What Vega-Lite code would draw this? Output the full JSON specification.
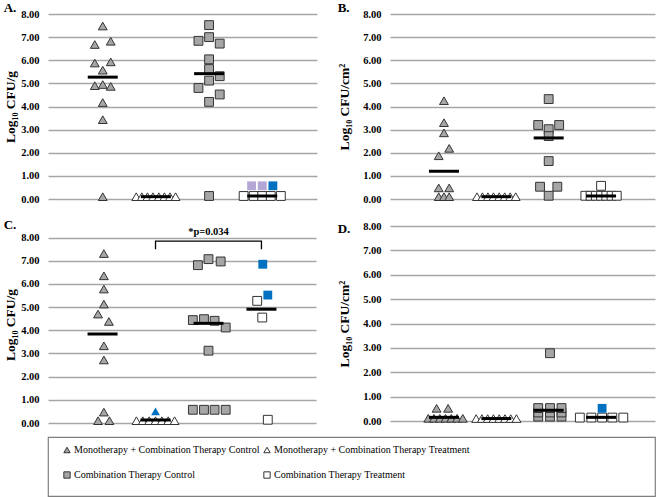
{
  "$schema": "https://vega.github.io/schema/vega-lite/v6.json",
  "padding": {"left": 3, "top": 2, "right": 0, "bottom": 0},
  "config": {
    "view": {"stroke": null},
    "font": "Liberation Serif",
    "axis": {"labelFont": "Liberation Serif", "labelFontSize": 10.5, "labelFontWeight": "bold", "labelColor": "#000", "titleFont": "Liberation Serif", "titleFontSize": 13.5, "titleFontWeight": "bold", "titleColor": "#000", "gridColor": "#a6a6a6", "gridWidth": 1.3, "domain": false, "ticks": false, "labelPadding": 9, "labelOverlap": false},
    "title": {"font": "Liberation Serif", "fontSize": 13, "fontWeight": "bold", "anchor": "start", "frame": "bounds", "color": "#000", "offset": -6}
  },
  "datasets": {
    "pts": [
      {"p": "A", "g": "g1", "v": 7.48, "j": 0}, {"p": "A", "g": "g1", "v": 6.68, "j": -3}, {"p": "A", "g": "g1", "v": 6.82, "j": 3},
      {"p": "A", "g": "g1", "v": 5.88, "j": -3}, {"p": "A", "g": "g1", "v": 5.93, "j": 3}, {"p": "A", "g": "g1", "v": 5.57, "j": 0},
      {"p": "A", "g": "g1", "v": 4.9, "j": -3}, {"p": "A", "g": "g1", "v": 4.95, "j": 0}, {"p": "A", "g": "g1", "v": 4.87, "j": 3},
      {"p": "A", "g": "g1", "v": 4.17, "j": 0}, {"p": "A", "g": "g1", "v": 3.43, "j": 0}, {"p": "A", "g": "g1", "v": 0.1, "j": 0},
      {"p": "A", "g": "g2", "v": 0.1, "j": -7.4}, {"p": "A", "g": "g2", "v": 0.1, "j": -5.3}, {"p": "A", "g": "g2", "v": 0.1, "j": -3.2}, {"p": "A", "g": "g2", "v": 0.1, "j": -1.1},
      {"p": "A", "g": "g2", "v": 0.1, "j": 1.1}, {"p": "A", "g": "g2", "v": 0.1, "j": 3.2}, {"p": "A", "g": "g2", "v": 0.1, "j": 5.3}, {"p": "A", "g": "g2", "v": 0.1, "j": 7.4},
      {"p": "A", "g": "g3", "v": 7.52, "j": 0}, {"p": "A", "g": "g3", "v": 6.84, "j": -4}, {"p": "A", "g": "g3", "v": 7.0, "j": 0},
      {"p": "A", "g": "g3", "v": 6.72, "j": 4}, {"p": "A", "g": "g3", "v": 6.04, "j": 0}, {"p": "A", "g": "g3", "v": 5.62, "j": 0},
      {"p": "A", "g": "g3", "v": 5.12, "j": 0}, {"p": "A", "g": "g3", "v": 5.31, "j": 4}, {"p": "A", "g": "g3", "v": 4.8, "j": -4},
      {"p": "A", "g": "g3", "v": 4.52, "j": 4}, {"p": "A", "g": "g3", "v": 4.2, "j": 0}, {"p": "A", "g": "g3", "v": 0.13, "j": 0},
      {"p": "A", "g": "g4", "v": 0.57, "j": -4, "s": "s2"}, {"p": "A", "g": "g4", "v": 0.57, "j": 0, "s": "s2"}, {"p": "A", "g": "g4", "v": 0.57, "j": 4, "s": "s1"},
      {"p": "A", "g": "g4", "v": 0.13, "j": -7}, {"p": "A", "g": "g4", "v": 0.13, "j": -3.2}, {"p": "A", "g": "g4", "v": 0.13, "j": 0},
      {"p": "A", "g": "g4", "v": 0.13, "j": 3.2}, {"p": "A", "g": "g4", "v": 0.13, "j": 7},

      {"p": "B", "g": "g1", "v": 4.25, "j": 0}, {"p": "B", "g": "g1", "v": 3.3, "j": 0}, {"p": "B", "g": "g1", "v": 2.86, "j": 0},
      {"p": "B", "g": "g1", "v": 1.87, "j": -2}, {"p": "B", "g": "g1", "v": 2.19, "j": 2}, {"p": "B", "g": "g1", "v": 0.48, "j": -2},
      {"p": "B", "g": "g1", "v": 0.48, "j": 2}, {"p": "B", "g": "g1", "v": 0.1, "j": -2}, {"p": "B", "g": "g1", "v": 0.1, "j": 0}, {"p": "B", "g": "g1", "v": 0.1, "j": 2},
      {"p": "B", "g": "g2", "v": 0.1, "j": -7.4}, {"p": "B", "g": "g2", "v": 0.1, "j": -5.3}, {"p": "B", "g": "g2", "v": 0.1, "j": -3.2}, {"p": "B", "g": "g2", "v": 0.1, "j": -1.1},
      {"p": "B", "g": "g2", "v": 0.1, "j": 1.1}, {"p": "B", "g": "g2", "v": 0.1, "j": 3.2}, {"p": "B", "g": "g2", "v": 0.1, "j": 5.3}, {"p": "B", "g": "g2", "v": 0.1, "j": 7.4},
      {"p": "B", "g": "g3", "v": 4.32, "j": 0}, {"p": "B", "g": "g3", "v": 3.2, "j": -4}, {"p": "B", "g": "g3", "v": 3.2, "j": 4},
      {"p": "B", "g": "g3", "v": 3.02, "j": 0}, {"p": "B", "g": "g3", "v": 2.72, "j": 0}, {"p": "B", "g": "g3", "v": 1.64, "j": 0},
      {"p": "B", "g": "g3", "v": 0.53, "j": -3.3}, {"p": "B", "g": "g3", "v": 0.53, "j": 3.3}, {"p": "B", "g": "g3", "v": 0.14, "j": 0},
      {"p": "B", "g": "g4", "v": 0.57, "j": 0},
      {"p": "B", "g": "g4", "v": 0.14, "j": -6}, {"p": "B", "g": "g4", "v": 0.14, "j": -4}, {"p": "B", "g": "g4", "v": 0.14, "j": -2}, {"p": "B", "g": "g4", "v": 0.14, "j": 0},
      {"p": "B", "g": "g4", "v": 0.14, "j": 2}, {"p": "B", "g": "g4", "v": 0.14, "j": 4}, {"p": "B", "g": "g4", "v": 0.14, "j": 6},

      {"p": "C", "g": "g1", "v": 7.31, "j": 0.5}, {"p": "C", "g": "g1", "v": 6.35, "j": 0.5}, {"p": "C", "g": "g1", "v": 5.78, "j": 0.5},
      {"p": "C", "g": "g1", "v": 5.13, "j": 0.5}, {"p": "C", "g": "g1", "v": 4.7, "j": -1.7}, {"p": "C", "g": "g1", "v": 4.38, "j": 2.4},
      {"p": "C", "g": "g1", "v": 3.33, "j": 0.5}, {"p": "C", "g": "g1", "v": 2.72, "j": 0.5}, {"p": "C", "g": "g1", "v": 0.47, "j": 0.5},
      {"p": "C", "g": "g1", "v": 0.1, "j": -1.7}, {"p": "C", "g": "g1", "v": 0.1, "j": 2.6},
      {"p": "C", "g": "g2", "v": 0.1, "j": -7.2}, {"p": "C", "g": "g2", "v": 0.1, "j": -4.8}, {"p": "C", "g": "g2", "v": 0.1, "j": -2.4}, {"p": "C", "g": "g2", "v": 0.1, "j": 0},
      {"p": "C", "g": "g2", "v": 0.1, "j": 2.4}, {"p": "C", "g": "g2", "v": 0.1, "j": 4.8}, {"p": "C", "g": "g2", "v": 0.1, "j": 7.2},
      {"p": "C", "g": "g2", "v": 0.5, "j": 0, "s": "s1"},
      {"p": "C", "g": "g3", "v": 6.81, "j": -4}, {"p": "C", "g": "g3", "v": 7.07, "j": 0}, {"p": "C", "g": "g3", "v": 6.97, "j": 4.6},
      {"p": "C", "g": "g3", "v": 4.44, "j": -5.9}, {"p": "C", "g": "g3", "v": 4.48, "j": -1.7}, {"p": "C", "g": "g3", "v": 4.41, "j": 2.3},
      {"p": "C", "g": "g3", "v": 4.12, "j": 6.5}, {"p": "C", "g": "g3", "v": 3.12, "j": 0},
      {"p": "C", "g": "g3", "v": 0.57, "j": -5.9}, {"p": "C", "g": "g3", "v": 0.57, "j": -1.7}, {"p": "C", "g": "g3", "v": 0.57, "j": 2.3}, {"p": "C", "g": "g3", "v": 0.57, "j": 6.5},
      {"p": "C", "g": "g4", "v": 6.85, "j": 0.5, "s": "s1"}, {"p": "C", "g": "g4", "v": 5.52, "j": 2.4, "s": "s1"},
      {"p": "C", "g": "g4", "v": 5.27, "j": -1.6}, {"p": "C", "g": "g4", "v": 4.55, "j": 0.3}, {"p": "C", "g": "g4", "v": 0.14, "j": 2.4},

      {"p": "D", "g": "g1", "v": 0.52, "j": -2.8}, {"p": "D", "g": "g1", "v": 0.52, "j": 1.6},
      {"p": "D", "g": "g1", "v": 0.11, "j": -6}, {"p": "D", "g": "g1", "v": 0.11, "j": -3.8}, {"p": "D", "g": "g1", "v": 0.11, "j": -1.6}, {"p": "D", "g": "g1", "v": 0.11, "j": 0.6},
      {"p": "D", "g": "g1", "v": 0.11, "j": 2.8}, {"p": "D", "g": "g1", "v": 0.11, "j": 5}, {"p": "D", "g": "g1", "v": 0.11, "j": 7.2},
      {"p": "D", "g": "g2", "v": 0.1, "j": -7.7}, {"p": "D", "g": "g2", "v": 0.1, "j": -5.5}, {"p": "D", "g": "g2", "v": 0.1, "j": -3.3}, {"p": "D", "g": "g2", "v": 0.1, "j": -1.1},
      {"p": "D", "g": "g2", "v": 0.1, "j": 1.1}, {"p": "D", "g": "g2", "v": 0.1, "j": 3.3}, {"p": "D", "g": "g2", "v": 0.1, "j": 5.5}, {"p": "D", "g": "g2", "v": 0.1, "j": 7.7},
      {"p": "D", "g": "g3", "v": 0.18, "j": -4}, {"p": "D", "g": "g3", "v": 0.18, "j": 0.5}, {"p": "D", "g": "g3", "v": 0.18, "j": 4.9},
      {"p": "D", "g": "g3", "v": 0.35, "j": -4}, {"p": "D", "g": "g3", "v": 0.35, "j": 0.5}, {"p": "D", "g": "g3", "v": 0.35, "j": 4.9},
      {"p": "D", "g": "g3", "v": 0.53, "j": -4}, {"p": "D", "g": "g3", "v": 0.53, "j": 0.5}, {"p": "D", "g": "g3", "v": 0.53, "j": 4.9},
      {"p": "D", "g": "g3", "v": 2.78, "j": 0.5},
      {"p": "D", "g": "g4", "v": 0.14, "j": -8.1}, {"p": "D", "g": "g4", "v": 0.14, "j": -3.7}, {"p": "D", "g": "g4", "v": 0.14, "j": 0.4},
      {"p": "D", "g": "g4", "v": 0.14, "j": 4.3}, {"p": "D", "g": "g4", "v": 0.14, "j": 8.5},
      {"p": "D", "g": "g4", "v": 0.52, "j": 0.4, "s": "s1"}
    ],
    "means": [
      {"p": "A", "g": "g1", "v": 5.27}, {"p": "A", "g": "g2", "v": 0.1}, {"p": "A", "g": "g3", "v": 5.42}, {"p": "A", "g": "g4", "v": 0.13},
      {"p": "B", "g": "g1", "v": 1.2}, {"p": "B", "g": "g2", "v": 0.1}, {"p": "B", "g": "g3", "v": 2.64}, {"p": "B", "g": "g4", "v": 0.13},
      {"p": "C", "g": "g1", "v": 3.84}, {"p": "C", "g": "g2", "v": 0.13}, {"p": "C", "g": "g3", "v": 4.3}, {"p": "C", "g": "g4", "v": 4.91},
      {"p": "D", "g": "g1", "v": 0.15}, {"p": "D", "g": "g2", "v": 0.1}, {"p": "D", "g": "g3", "v": 0.44}, {"p": "D", "g": "g4", "v": 0.15}
    ],
    "bracket": [
      {"g": "g2", "v": 7.5, "o": 1}, {"g": "g2", "v": 7.85, "o": 2}, {"g": "g4", "v": 7.85, "o": 3}, {"g": "g4", "v": 7.5, "o": 4}
    ],
    "anno": [{"g": "g3", "v": 8.23, "label": "*p=0.034"}],
    "legendGroups": [
      {"label": "Monotherapy + Combination Therapy Control"},
      {"label": "Monotherapy + Combination Therapy Treatment"},
      {"label": "Combination Therapy Control"},
      {"label": "Combination Therapy Treatment"}
    ]
  },
  "resolve": {"scale": {"x": "independent", "y": "independent", "xOffset": "independent", "shape": "independent", "fill": "independent", "strokeOpacity": "independent"}},
  "spacing": 7,
  "vconcat": [
    {
      "spacing": 14,
      "resolve": {"scale": {"x": "independent", "y": "independent", "xOffset": "independent", "shape": "independent", "fill": "independent", "strokeOpacity": "independent"}},
      "vconcat": [
        {
          "spacing": 20,
          "resolve": {"scale": {"x": "independent", "y": "independent", "xOffset": "independent", "shape": "independent", "fill": "independent", "strokeOpacity": "independent"}},
          "hconcat": [
            {
              "width": 269, "height": 185,
              "title": {"text": "A."},
              "layer": [
                {
                  "data": {"name": "pts"}, "transform": [{"filter": "datum.p === 'A'"}],
                  "mark": {"type": "point", "filled": true, "size": 78, "stroke": "#333", "strokeWidth": 1, "opacity": 1},
                  "encoding": {
                    "x": {"field": "g", "type": "nominal", "scale": {"type": "band", "domain": ["g1", "g2", "g3", "g4"], "paddingInner": 0, "paddingOuter": 0.53}, "axis": null},
                    "xOffset": {"field": "j", "type": "quantitative", "scale": {"domain": [-10, 10]}},
                    "y": {"field": "v", "type": "quantitative", "scale": {"domain": [0, 8], "nice": false}, "axis": {"values": [0, 1, 2, 3, 4, 5, 6, 7, 8], "tickCount": 9, "format": ".2f", "title": "Log₁₀ CFU/g", "titlePadding": 3}},
                    "shape": {"field": "g", "type": "nominal", "scale": {"domain": ["g1", "g2", "g3", "g4"], "range": ["triangle-up", "triangle-up", "square", "square"]}, "legend": null},
                    "fill": {"field": "g", "type": "nominal", "scale": {"domain": ["g1", "g2", "g3", "g4"], "range": ["#a6a6a6", "#ffffff", "#a6a6a6", "#ffffff"]}, "legend": null,
                      "condition": [{"test": "datum.s === 's1'", "value": "#0070c0"}, {"test": "datum.s === 's2'", "value": "#b4a7d6"}]},
                    "strokeOpacity": {"condition": {"test": "datum.s === 's1' || datum.s === 's2'", "value": 0}, "value": 1}
                  }
                },
                {
                  "data": {"name": "means"}, "transform": [{"filter": "datum.p === 'A'"}],
                  "mark": {"type": "tick", "size": 30, "thickness": 3, "color": "#000", "opacity": 1},
                  "encoding": {"x": {"field": "g", "type": "nominal"}, "y": {"field": "v", "type": "quantitative", "axis": {"values": [0, 1, 2, 3, 4, 5, 6, 7, 8], "tickCount": 9, "format": ".2f", "title": "Log₁₀ CFU/g", "titlePadding": 3}}}
                }
              ]
            },
            {
              "width": 265, "height": 185,
              "title": {"text": "B."},
              "layer": [
                {
                  "data": {"name": "pts"}, "transform": [{"filter": "datum.p === 'B'"}],
                  "mark": {"type": "point", "filled": true, "size": 78, "stroke": "#333", "strokeWidth": 1, "opacity": 1},
                  "encoding": {
                    "x": {"field": "g", "type": "nominal", "scale": {"type": "band", "domain": ["g1", "g2", "g3", "g4"], "paddingInner": 0, "paddingOuter": 0.53}, "axis": null},
                    "xOffset": {"field": "j", "type": "quantitative", "scale": {"domain": [-10, 10]}},
                    "y": {"field": "v", "type": "quantitative", "scale": {"domain": [0, 8], "nice": false}, "axis": {"values": [0, 1, 2, 3, 4, 5, 6, 7, 8], "tickCount": 9, "format": ".2f", "title": "Log₁₀ CFU/cm²", "titlePadding": 11}},
                    "shape": {"field": "g", "type": "nominal", "scale": {"domain": ["g1", "g2", "g3", "g4"], "range": ["triangle-up", "triangle-up", "square", "square"]}, "legend": null},
                    "fill": {"field": "g", "type": "nominal", "scale": {"domain": ["g1", "g2", "g3", "g4"], "range": ["#a6a6a6", "#ffffff", "#a6a6a6", "#ffffff"]}, "legend": null,
                      "condition": [{"test": "datum.s === 's1'", "value": "#0070c0"}, {"test": "datum.s === 's2'", "value": "#b4a7d6"}]},
                    "strokeOpacity": {"condition": {"test": "datum.s === 's1' || datum.s === 's2'", "value": 0}, "value": 1}
                  }
                },
                {
                  "data": {"name": "means"}, "transform": [{"filter": "datum.p === 'B'"}],
                  "mark": {"type": "tick", "size": 30, "thickness": 3, "color": "#000", "opacity": 1},
                  "encoding": {"x": {"field": "g", "type": "nominal"}, "y": {"field": "v", "type": "quantitative", "axis": {"values": [0, 1, 2, 3, 4, 5, 6, 7, 8], "tickCount": 9, "format": ".2f", "title": "Log₁₀ CFU/cm²", "titlePadding": 11}}}
                }
              ]
            }
          ]
        },
        {
          "spacing": 21,
          "resolve": {"scale": {"x": "independent", "y": "independent", "xOffset": "independent", "shape": "independent", "fill": "independent", "strokeOpacity": "independent"}},
          "hconcat": [
            {
              "width": 268, "height": 197,
              "title": {"text": "C."},
              "layer": [
                {
                  "data": {"name": "pts"}, "transform": [{"filter": "datum.p === 'C'"}],
                  "mark": {"type": "point", "filled": true, "size": 78, "stroke": "#333", "strokeWidth": 1, "opacity": 1},
                  "encoding": {
                    "x": {"field": "g", "type": "nominal", "scale": {"type": "band", "domain": ["g1", "g2", "g3", "g4"], "paddingInner": 0, "paddingOuter": 0.53}, "axis": null},
                    "xOffset": {"field": "j", "type": "quantitative", "scale": {"domain": [-10, 10]}},
                    "y": {"field": "v", "type": "quantitative", "scale": {"domain": [0, 8.5], "nice": false}, "axis": {"values": [0, 1, 2, 3, 4, 5, 6, 7, 8], "tickCount": 9, "format": ".2f", "title": "Log₁₀ CFU/g", "titlePadding": 3}},
                    "shape": {"field": "g", "type": "nominal", "scale": {"domain": ["g1", "g2", "g3", "g4"], "range": ["triangle-up", "triangle-up", "square", "square"]}, "legend": null},
                    "fill": {"field": "g", "type": "nominal", "scale": {"domain": ["g1", "g2", "g3", "g4"], "range": ["#a6a6a6", "#ffffff", "#a6a6a6", "#ffffff"]}, "legend": null,
                      "condition": [{"test": "datum.s === 's1'", "value": "#0070c0"}, {"test": "datum.s === 's2'", "value": "#b4a7d6"}]},
                    "strokeOpacity": {"condition": {"test": "datum.s === 's1' || datum.s === 's2'", "value": 0}, "value": 1}
                  }
                },
                {
                  "data": {"name": "means"}, "transform": [{"filter": "datum.p === 'C'"}],
                  "mark": {"type": "tick", "size": 30, "thickness": 3, "color": "#000", "opacity": 1},
                  "encoding": {"x": {"field": "g", "type": "nominal"}, "y": {"field": "v", "type": "quantitative", "axis": {"values": [0, 1, 2, 3, 4, 5, 6, 7, 8], "tickCount": 9, "format": ".2f", "title": "Log₁₀ CFU/g", "titlePadding": 3}}}
                },
                {
                  "data": {"name": "bracket"},
                  "mark": {"type": "line", "color": "#000", "strokeWidth": 1.3},
                  "encoding": {"x": {"field": "g", "type": "nominal"}, "y": {"field": "v", "type": "quantitative", "axis": {"values": [0, 1, 2, 3, 4, 5, 6, 7, 8], "tickCount": 9, "format": ".2f", "title": "Log₁₀ CFU/g", "titlePadding": 3}}, "order": {"field": "o", "type": "quantitative"}}
                },
                {
                  "data": {"name": "anno"},
                  "mark": {"type": "text", "font": "Liberation Serif", "fontSize": 10.5, "fontWeight": "bold", "color": "#000", "baseline": "middle"},
                  "encoding": {"x": {"field": "g", "type": "nominal"}, "y": {"field": "v", "type": "quantitative", "axis": {"values": [0, 1, 2, 3, 4, 5, 6, 7, 8], "tickCount": 9, "format": ".2f", "title": "Log₁₀ CFU/g", "titlePadding": 3}}, "text": {"field": "label"}}
                }
              ]
            },
            {
              "width": 265, "height": 195,
              "title": {"text": "D.", "dy": 9},
              "layer": [
                {
                  "data": {"name": "pts"}, "transform": [{"filter": "datum.p === 'D'"}],
                  "mark": {"type": "point", "filled": true, "size": 78, "stroke": "#333", "strokeWidth": 1, "opacity": 1},
                  "encoding": {
                    "x": {"field": "g", "type": "nominal", "scale": {"type": "band", "domain": ["g1", "g2", "g3", "g4"], "paddingInner": 0, "paddingOuter": 0.53}, "axis": null},
                    "xOffset": {"field": "j", "type": "quantitative", "scale": {"domain": [-10, 10]}},
                    "y": {"field": "v", "type": "quantitative", "scale": {"domain": [0, 8], "nice": false}, "axis": {"values": [0, 1, 2, 3, 4, 5, 6, 7, 8], "tickCount": 9, "format": ".2f", "title": "Log₁₀ CFU/cm²", "titlePadding": 11}},
                    "shape": {"field": "g", "type": "nominal", "scale": {"domain": ["g1", "g2", "g3", "g4"], "range": ["triangle-up", "triangle-up", "square", "square"]}, "legend": null},
                    "fill": {"field": "g", "type": "nominal", "scale": {"domain": ["g1", "g2", "g3", "g4"], "range": ["#a6a6a6", "#ffffff", "#a6a6a6", "#ffffff"]}, "legend": null,
                      "condition": [{"test": "datum.s === 's1'", "value": "#0070c0"}, {"test": "datum.s === 's2'", "value": "#b4a7d6"}]},
                    "strokeOpacity": {"condition": {"test": "datum.s === 's1' || datum.s === 's2'", "value": 0}, "value": 1}
                  }
                },
                {
                  "data": {"name": "means"}, "transform": [{"filter": "datum.p === 'D'"}],
                  "mark": {"type": "tick", "size": 30, "thickness": 3, "color": "#000", "opacity": 1},
                  "encoding": {"x": {"field": "g", "type": "nominal"}, "y": {"field": "v", "type": "quantitative", "axis": {"values": [0, 1, 2, 3, 4, 5, 6, 7, 8], "tickCount": 9, "format": ".2f", "title": "Log₁₀ CFU/cm²", "titlePadding": 11}}}
                }
              ]
            }
          ]
        }
      ]
    },
    {
      "width": 607, "height": 59,
      "view": {"stroke": "#7f7f7f", "strokeWidth": 1.2},
      "data": {"name": "legendGroups"},
      "mark": {"type": "point", "filled": true, "opacity": 0},
      "encoding": {
        "shape": {"field": "label", "type": "nominal",
          "scale": {"domain": ["Monotherapy + Combination Therapy Control", "Monotherapy + Combination Therapy Treatment", "Combination Therapy Control", "Combination Therapy Treatment"], "range": ["triangle-up", "triangle-up", "square", "square"]},
          "legend": {"orient": "none", "legendX": 14, "legendY": 8, "columns": 2, "direction": "horizontal", "title": null, "labelFont": "Liberation Serif", "labelFontSize": 10, "labelColor": "#000", "symbolSize": 40, "symbolOpacity": 1, "columnPadding": 1, "rowPadding": 14, "labelOffset": 2, "padding": 0, "labelLimit": 400,
            "encode": {"symbols": {"update": {"stroke": {"value": "#333"}, "strokeWidth": {"value": 1}, "opacity": {"value": 1}}}}}},
        "fill": {"field": "label", "type": "nominal",
          "scale": {"domain": ["Monotherapy + Combination Therapy Control", "Monotherapy + Combination Therapy Treatment", "Combination Therapy Control", "Combination Therapy Treatment"], "range": ["#a6a6a6", "#ffffff", "#a6a6a6", "#ffffff"]},
          "legend": {"orient": "none", "legendX": 14, "legendY": 8, "columns": 2, "direction": "horizontal", "title": null, "labelFont": "Liberation Serif", "labelFontSize": 10, "labelColor": "#000", "symbolSize": 40, "symbolOpacity": 1, "columnPadding": 1, "rowPadding": 14, "labelOffset": 2, "padding": 0, "labelLimit": 400,
            "encode": {"symbols": {"update": {"stroke": {"value": "#333"}, "strokeWidth": {"value": 1}, "opacity": {"value": 1}}}}}}
      }
    }
  ]
}
